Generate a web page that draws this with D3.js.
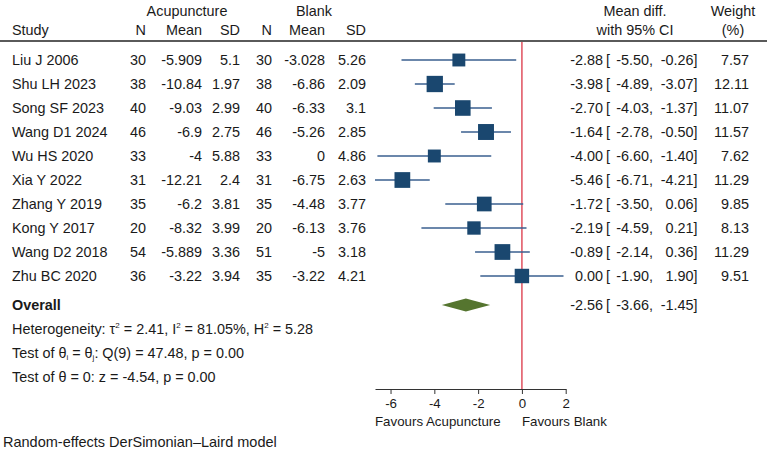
<!DOCTYPE html>
<html>
<head>
<meta charset="utf-8">
<script src="https://cdn.jsdelivr.net/npm/d3@7"></script>
<style>
    body { margin: 0; background: #fff; }
    svg text { font-family: "Liberation Sans", Arial, sans-serif; fill: #1a1a1a; }
    .cell { font-size: 14.4px; }
    .small { font-size: 13.3px; }
</style>
</head>
<body>
<div id="chart"></div>
<script>
// study table
const studies = ["Liu J 2006", "Shu LH 2023", "Song SF 2023", "Wang D1 2024", "Wu HS 2020",
    "Xia Y 2022", "Zhang Y 2019", "Kong Y 2017", "Wang D2 2018", "Zhu BC 2020"];
const acuN = [30, 38, 40, 46, 33, 31, 35, 20, 54, 36];
const acuMean = [-5.909, -10.84, -9.03, -6.9, -4, -12.21, -6.2, -8.32, -5.889, -3.22];
const acuSD = [5.1, 1.97, 2.99, 2.75, 5.88, 2.4, 3.81, 3.99, 3.36, 3.94];
const blankN = [30, 38, 40, 46, 33, 31, 35, 20, 51, 35];
const blankMean = [-3.028, -6.86, -6.33, -5.26, 0, -6.75, -4.48, -6.13, -5, -3.22];
const blankSD = [5.26, 2.09, 3.1, 2.85, 4.86, 2.63, 3.77, 3.76, 3.18, 4.21];

// effect sizes
const meanDiff = [-2.88, -3.98, -2.70, -1.64, -4.00, -5.46, -1.72, -2.19, -0.89, 0.00];
const ciLow = [-5.50, -4.89, -4.03, -2.78, -6.60, -6.71, -3.50, -4.59, -2.14, -1.90];
const ciHigh = [-0.26, -3.07, -1.37, -0.50, -1.40, -4.21, 0.06, 0.21, 0.36, 1.90];
const weights = [7.57, 12.11, 11.07, 11.57, 7.62, 11.29, 9.85, 8.13, 11.29, 9.51];

const overallEst = -2.56, overallLow = -3.66, overallHigh = -1.45;
const xTicks = [-6, -4, -2, 0, 2];

const width = 767, height = 452;
const f2 = v => v.toFixed(2);

const svg = d3.select("#chart").append("svg")
    .attr("width", width).attr("height", height);

// scales
const x = d3.scaleLinear()
    .domain([d3.min(ciLow), 2])
    .range([375, 565.7]);
const y = d3.scaleLinear()
    .domain([0, studies.length - 1])
    .range([60, 276]);
const yOverall = y(studies.length - 1) + 29;
const yStat = i => yOverall + 24 * (i + 1);
const boxSize = d3.scaleSqrt()
    .domain([0, d3.max(weights)])
    .range([0, 16.3]);

// header
const header = svg.append("g").attr("class", "cell");
header.append("text").attr("x", 187).attr("y", 11).attr("dy", "0.35em")
    .attr("text-anchor", "middle").text("Acupuncture");
header.append("text").attr("x", 314).attr("y", 11).attr("dy", "0.35em")
    .attr("text-anchor", "middle").text("Blank");
header.append("text").attr("x", 12).attr("y", 30).attr("dy", "0.35em").text("Study");

const cols = [
    {x: 146, title: "N", vals: acuN},
    {x: 202, title: "Mean", vals: acuMean},
    {x: 240, title: "SD", vals: acuSD},
    {x: 272, title: "N", vals: blankN},
    {x: 325, title: "Mean", vals: blankMean},
    {x: 366, title: "SD", vals: blankSD}
];
cols.forEach(c => {
    header.append("text").attr("x", c.x).attr("y", 30).attr("dy", "0.35em")
        .attr("text-anchor", "end").text(c.title);
});
header.append("text").attr("x", 635).attr("y", 11).attr("dy", "0.35em")
    .attr("text-anchor", "middle").text("Mean diff.");
header.append("text").attr("x", 635).attr("y", 30).attr("dy", "0.35em")
    .attr("text-anchor", "middle").text("with 95% CI");
header.append("text").attr("x", 733).attr("y", 11).attr("dy", "0.35em")
    .attr("text-anchor", "middle").text("Weight");
header.append("text").attr("x", 733).attr("y", 30).attr("dy", "0.35em")
    .attr("text-anchor", "middle").text("(%)");

svg.append("line")
    .attr("x1", 0).attr("x2", width).attr("y1", 41).attr("y2", 41)
    .attr("stroke", "#5a5a5a").attr("stroke-width", 2);

// null line
svg.append("line")
    .attr("x1", x(0)).attr("x2", x(0)).attr("y1", 42).attr("y2", 389)
    .attr("stroke", "#e0505e").attr("stroke-width", 1.5);

// table rows
const rows = svg.append("g").attr("class", "cell")
    .selectAll("g").data(studies).join("g")
    .attr("transform", (d, i) => `translate(0,${y(i)})`);

rows.append("text").attr("x", 12).attr("dy", "0.35em").text(d => d);
cols.forEach(c => {
    rows.append("text").attr("x", c.x).attr("dy", "0.35em")
        .attr("text-anchor", "end").text((d, i) => String(c.vals[i]));
});

// CI lines and boxes
const marks = svg.append("g");
marks.selectAll("line").data(studies).join("line")
    .attr("x1", (d, i) => x(ciLow[i])).attr("x2", (d, i) => x(ciHigh[i]))
    .attr("y1", (d, i) => y(i)).attr("y2", (d, i) => y(i))
    .attr("stroke", "#3a5f8f").attr("stroke-width", 1.5);
marks.selectAll("rect").data(studies).join("rect")
    .attr("x", (d, i) => x(meanDiff[i]) - boxSize(weights[i]) / 2)
    .attr("y", (d, i) => y(i) - boxSize(weights[i]) / 2)
    .attr("width", (d, i) => boxSize(weights[i]))
    .attr("height", (d, i) => boxSize(weights[i]))
    .attr("fill", "#1a476f");

// effect text columns
rows.append("text").attr("x", 603).attr("dy", "0.35em").attr("text-anchor", "end")
    .text((d, i) => f2(meanDiff[i]));
rows.append("text").attr("x", 606).attr("dy", "0.35em").text("[");
rows.append("text").attr("x", 653).attr("dy", "0.35em").attr("text-anchor", "end")
    .text((d, i) => f2(ciLow[i]) + ",");
rows.append("text").attr("x", 697.5).attr("dy", "0.35em").attr("text-anchor", "end")
    .text((d, i) => f2(ciHigh[i]) + "]");
rows.append("text").attr("x", 749).attr("dy", "0.35em").attr("text-anchor", "end")
    .text((d, i) => f2(weights[i]));

// overall
const ov = svg.append("g").attr("class", "cell").attr("transform", `translate(0,${yOverall})`);
ov.append("text").attr("x", 12).attr("dy", "0.35em").attr("font-weight", "bold").text("Overall");
ov.append("path")
    .attr("d", `M${x(overallLow)},0 L${x(overallEst)},-6.5 L${x(overallHigh)},0 L${x(overallEst)},6.5 Z`)
    .attr("fill", "#55752f");
ov.append("text").attr("x", 603).attr("dy", "0.35em").attr("text-anchor", "end").text(f2(overallEst));
ov.append("text").attr("x", 606).attr("dy", "0.35em").text("[");
ov.append("text").attr("x", 653).attr("dy", "0.35em").attr("text-anchor", "end").text(f2(overallLow) + ",");
ov.append("text").attr("x", 697.5).attr("dy", "0.35em").attr("text-anchor", "end").text(f2(overallHigh) + "]");

// heterogeneity stats (super/subscripts shifted in px so the baseline returns exactly)
const stats = svg.append("g").attr("class", "cell");
const het = stats.append("text").attr("x", 12).attr("y", yStat(0) + 5);
const sup = (t, s) => {
    t.append("tspan").attr("font-size", 8).attr("dy", -6).text(s);
};
het.append("tspan").text("Heterogeneity: τ");
sup(het, "2");
het.append("tspan").attr("dy", 6).text(" = 2.41, I");
sup(het, "2");
het.append("tspan").attr("dy", 6).text(" = 81.05%, H");
sup(het, "2");
het.append("tspan").attr("dy", 6).text(" = 5.28");

const q = stats.append("text").attr("x", 12).attr("y", yStat(1) + 5);
q.append("tspan").text("Test of θ");
q.append("tspan").attr("font-size", 8).attr("dy", 2).text("i");
q.append("tspan").attr("dy", -2).text(" = θ");
q.append("tspan").attr("font-size", 8).attr("dy", 2).text("j");
q.append("tspan").attr("dy", -2).text(": Q(9) = 47.48, p = 0.00");

stats.append("text").attr("x", 12).attr("y", yStat(2)).attr("dy", "0.35em")
    .text("Test of θ = 0: z = -4.54, p = 0.00");

// x axis
const axis = svg.append("g")
    .attr("transform", "translate(0,389)")
    .call(d3.axisBottom(x).tickValues(xTicks).tickSize(5).tickSizeOuter(0)
        .tickFormat(d => String(d)));
axis.select(".domain").attr("stroke", "#333").attr("stroke-width", 1.2);
axis.selectAll(".tick line").attr("stroke", "#333");
axis.selectAll(".tick text").attr("class", "small").attr("font-size", null)
    .attr("y", 10).attr("dy", "0.71em");

svg.append("text").attr("class", "small").attr("x", x.range()[0]).attr("y", 421)
    .attr("dy", "0.35em").text("Favours Acupuncture");
svg.append("text").attr("class", "small").attr("x", x(0)).attr("y", 421)
    .attr("dy", "0.35em").text("Favours Blank");

svg.append("text").attr("x", 3).attr("y", 442).attr("font-size", 14.5)
    .attr("dy", "0.35em").text("Random-effects DerSimonian–Laird model");
</script>
</body>
</html>
